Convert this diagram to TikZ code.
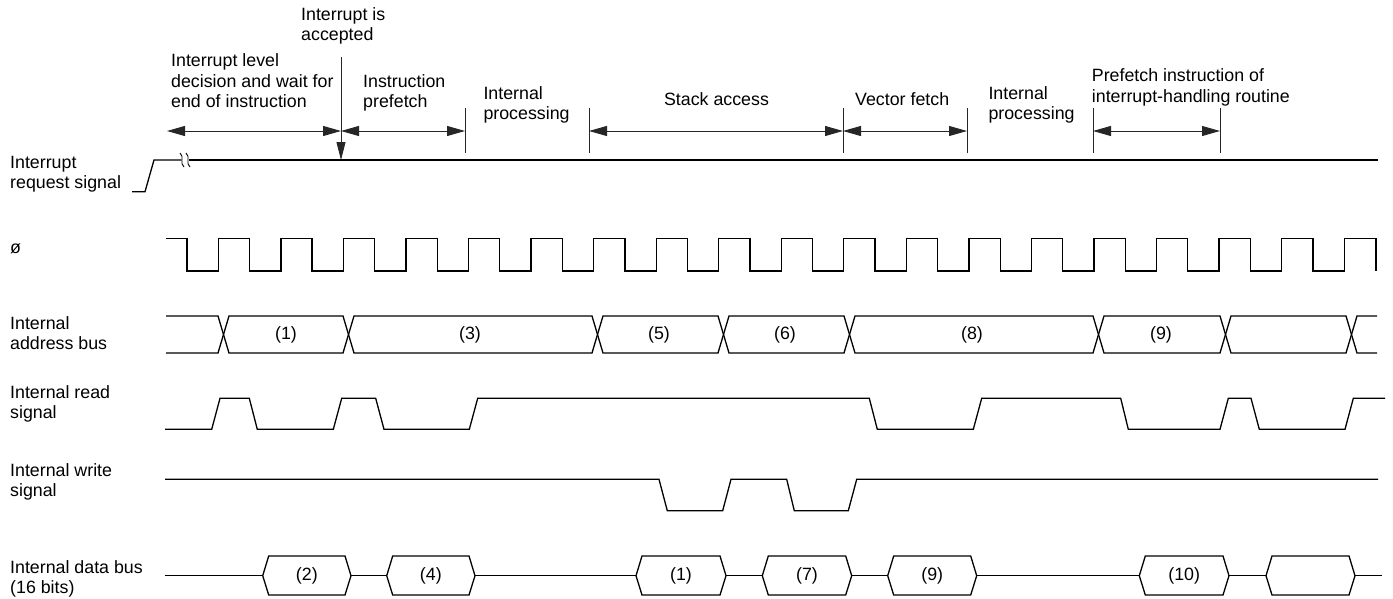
\documentclass[tikz,border=0pt]{standalone}
\usepackage{fontspec}
\setmainfont{Liberation Sans}
\usetikzlibrary{arrows.meta}
\newcommand\tlines[1]{\vtop{\halign{##\hfil\cr#1\crcr}}}
\begin{document}
\begin{tikzpicture}[x=1pt,y=-1pt,
  sig/.style={line width=1.3pt, line join=miter},
  dimline/.style={line width=0.9pt, black!85},
  dimarrow/.style={dimline, {Triangle[length=18pt,width=10pt]}-{Triangle[length=18pt,width=10pt]}},
  lbl/.style={inner sep=0pt, anchor=base west, font=\fontsize{17.8}{20.5}\selectfont},
  num/.style={inner sep=0pt, font=\fontsize{17.8}{20.5}\selectfont}
]
\useasboundingbox[fill=white] (0,0) rectangle (1393,598);

% ---------- top annotation texts ----------
\node[lbl] (tAcc) at (301,20) {\tlines{Interrupt is\cr accepted}};
\node[lbl] (tLvl) at (171,66.7) {\tlines{Interrupt level\cr decision and wait for\cr end of instruction}};
\node[lbl] (tPre) at (363,87.3) {\tlines{Instruction\cr prefetch}};
\node[lbl] (tIP1) at (483.3,99.3) {\tlines{Internal\cr processing}};
\node[lbl, anchor=base] (tStk) at (716.5,105) {Stack access};
\node[lbl] (tVec) at (855,105) {Vector fetch};
\node[lbl] (tIP2) at (988.3,99.3) {\tlines{Internal\cr processing}};
\node[lbl] (tPfi) at (1091.7,81.7) {\tlines{Prefetch instruction of\cr interrupt-handling routine}};

% ---------- left signal labels ----------
\node[lbl] (lIrq) at (10,168) {\tlines{Interrupt\cr request signal}};
\node[lbl] (lPhi) at (10,253) {ø};
\node[lbl] (lAdr) at (10,329) {\tlines{Internal\cr address bus}};
\node[lbl] (lRd)  at (10,398) {\tlines{Internal read\cr signal}};
\node[lbl] (lWr)  at (10,476) {\tlines{Internal write\cr signal}};
\node[lbl] (lDat) at (10,573) {\tlines{Internal data bus\cr (16 bits)}};

% ---------- dimension marks ----------
\coordinate (a0) at (167,131);
\coordinate (a1) at (341,131);
\coordinate (a2) at (465,131);
\coordinate (a3) at (589,131);
\coordinate (a4) at (843,131);
\coordinate (a5) at (967,131);
\coordinate (a6) at (1093,131);
\coordinate (a7) at (1220,131);
\foreach \c in {a2,a3,a4,a5,a6,a7}{
  \draw[dimline] ([yshift=23pt]\c) -- ([yshift=-22pt]\c);
}
\draw[dimarrow] (a0) -- (a1);
\draw[dimarrow] (a1) -- (a2);
\draw[dimarrow] (a3) -- (a4);
\draw[dimarrow] (a4) -- (a5);
\draw[dimarrow] (a6) -- (a7);

% interrupt accepted arrow
\coordinate (accTop) at (341,57);
\coordinate (accBot) at (341,160);
\draw[dimline, -{Triangle[length=18pt,width=9pt]}] (accTop) -- (accBot);

% ---------- interrupt request signal ----------
\draw[sig] (132,191.7) -- (145,191.7) -- (154,160) -- (181.5,160);
\draw[sig] (188.5,160) -- (1378,160);
\draw[line width=0.9pt] (180,153) .. controls (185,157) and (179,163) .. (184,167);
\draw[line width=0.9pt] (186,153) .. controls (191,157) and (185,163) .. (190,167);

% ---------- clock ----------
\draw[sig] (166,238.5) foreach \k in {0,...,18}{
   -- ({187+62.55*\k},238.5) -- ++(0,32.5) -- ++(31.3,0) -- ++(0,-32.5)}
   -- (1376,238.5) -- (1376,271);

% ---------- internal address bus ----------
\draw[sig] (166,316) -- (218,316) -- (229,353) -- (343,353) -- (354,316)
  -- (592,316) -- (603,353) -- (718,353) -- (729,316) -- (844,316) -- (855,353)
  -- (1093,353) -- (1104,316) -- (1220,316) -- (1231,353) -- (1346,353)
  -- (1357,316) -- (1377,316);
\draw[sig] (166,353) -- (218,353) -- (229,316) -- (343,316) -- (354,353)
  -- (592,353) -- (603,316) -- (718,316) -- (729,353) -- (844,353) -- (855,316)
  -- (1093,316) -- (1104,353) -- (1220,353) -- (1231,316) -- (1346,316)
  -- (1357,353) -- (1377,353);
\node[num] (ab1) at (286,334.5) {(1)};
\node[num] (ab3) at (470,334.5) {(3)};
\node[num] (ab5) at (659,334.5) {(5)};
\node[num] (ab6) at (785,334.5) {(6)};
\node[num] (ab8) at (972,334.5) {(8)};
\node[num] (ab9) at (1161,334.5) {(9)};

% ---------- internal read signal ----------
\draw[sig] (165,429.3) -- (211.7,429.3) -- (220,398.3) -- (249.3,398.3) -- (257.3,429.3)
  -- (333.3,429.3) -- (341.7,398.3) -- (375.7,398.3) -- (384,429.3) -- (469.3,429.3)
  -- (477.7,398.3) -- (869.3,398.3) -- (877.3,429.3) -- (973.3,429.3) -- (981.7,398.3)
  -- (1120.7,398.3) -- (1128.3,429.3) -- (1220,429.3) -- (1228.3,398.3) -- (1251,398.3)
  -- (1259.3,429.3) -- (1345,429.3) -- (1353.3,398.3) -- (1385,398.3);

% ---------- internal write signal ----------
\draw[sig] (165,479.3) -- (659,479.3) -- (667.3,510.7) -- (722.7,510.7) -- (731,479.3)
  -- (786.7,479.3) -- (794.3,510.7) -- (848.3,510.7) -- (856.7,479.3) -- (1378,479.3);

% ---------- internal data bus ----------
\draw[sig] (165,575.7) -- (262.7,575.7);
\draw[sig] (351,575.7) -- (386.7,575.7);
\draw[sig] (475,575.7) -- (636,575.7);
\draw[sig] (726,575.7) -- (762.3,575.7);
\draw[sig] (851.7,575.7) -- (887.7,575.7);
\draw[sig] (976.7,575.7) -- (1139.3,575.7);
\draw[sig] (1229,575.7) -- (1266,575.7);
\draw[sig] (1355,575.7) -- (1382,575.7);
\foreach \a/\b/\t in {262.7/351/2, 386.7/475/4, 636/726/1, 762.3/851.7/7, 887.7/976.7/9, 1139.3/1229/10}{
  \draw[sig] (\a,575.7) -- ({\a+6},556) -- ({\b-6},556) -- (\b,575.7) -- ({\b-6},595) -- ({\a+6},595) -- cycle;
  \node[num] (db\t) at ({(\a+\b)/2},575.7) {(\t)};
}
\draw[sig] (1266,575.7) -- (1272,556) -- (1349,556) -- (1355,575.7) -- (1349,595) -- (1272,595) -- cycle;
\end{tikzpicture}
\end{document}
